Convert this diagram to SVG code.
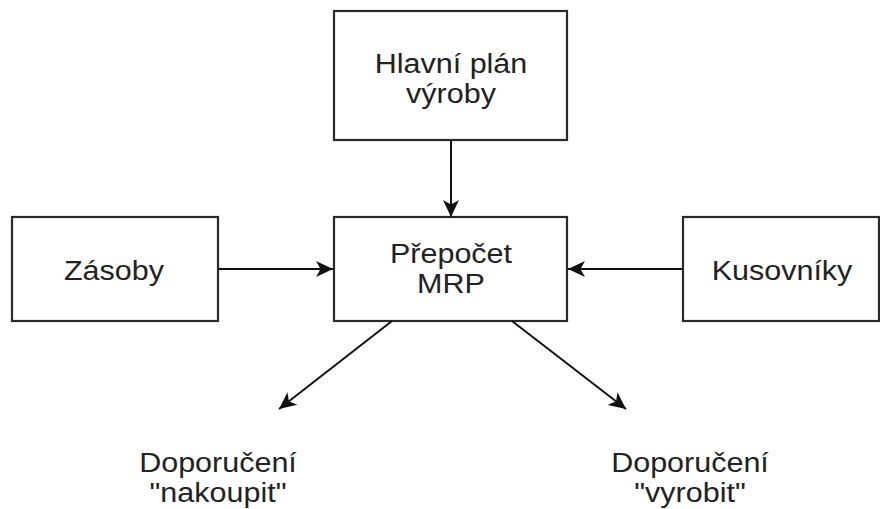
<svg xmlns="http://www.w3.org/2000/svg" width="880" height="509" viewBox="0 0 880 509">
  <style>
    .box { fill: #ffffff; stroke: #2a2a2a; stroke-width: 2.2; }
    .lbl { font-family: "Liberation Sans", Arial, sans-serif; font-size: 28px; fill: #222222; text-anchor: middle; }
    .edge { fill: none; stroke: #111111; stroke-width: 2; }
  </style>
  <defs>
    <marker id="arrow" markerUnits="userSpaceOnUse" markerWidth="22" markerHeight="20" viewBox="0 0 22 20" refX="20" refY="10" orient="auto">
      <path d="M3,2 L20,10 L3,18 L7.5,10 Z" fill="#111111"/>
    </marker>
  </defs>
  <rect width="880" height="509" fill="#ffffff"/>

  <g id="plan">
    <rect class="box" x="334" y="11" width="233" height="129"/>
    <text class="lbl" transform="translate(451,0) scale(1.09,1)" y="73">Hlavní plán</text>
    <text class="lbl" transform="translate(451,0) scale(1.09,1)" y="103">výroby</text>
  </g>

  <g id="zasoby">
    <rect class="box" x="12" y="217" width="206" height="104"/>
    <text class="lbl" transform="translate(114,0) scale(1.09,1)" y="280">Zásoby</text>
  </g>

  <g id="mrp">
    <rect class="box" x="334" y="217" width="233" height="104"/>
    <text class="lbl" transform="translate(451,0) scale(1.09,1)" y="263">Přepočet</text>
    <text class="lbl" transform="translate(451,0) scale(1.09,1)" y="293">MRP</text>
  </g>

  <g id="kusovniky">
    <rect class="box" x="683" y="217" width="196" height="104"/>
    <text class="lbl" transform="translate(782,0) scale(1.09,1)" y="280">Kusovníky</text>
  </g>

  <g id="nakoupit">
    <text class="lbl" transform="translate(218,0) scale(1.09,1)" y="472">Doporučení</text>
    <text class="lbl" transform="translate(218,0) scale(1.09,1)" y="502">"nakoupit"</text>
  </g>

  <g id="vyrobit">
    <text class="lbl" transform="translate(690,0) scale(1.09,1)" y="472">Doporučení</text>
    <text class="lbl" transform="translate(690,0) scale(1.09,1)" y="502">"vyrobit"</text>
  </g>

  <g id="connectors">
    <line class="edge" x1="451" y1="140" x2="451" y2="217" marker-end="url(#arrow)"/>
    <line class="edge" x1="218" y1="269" x2="333" y2="269" marker-end="url(#arrow)"/>
    <line class="edge" x1="683" y1="269" x2="568" y2="269" marker-end="url(#arrow)"/>
    <line class="edge" x1="392" y1="321" x2="279" y2="409" marker-end="url(#arrow)"/>
    <line class="edge" x1="512" y1="321" x2="626" y2="409" marker-end="url(#arrow)"/>
  </g>
</svg>
